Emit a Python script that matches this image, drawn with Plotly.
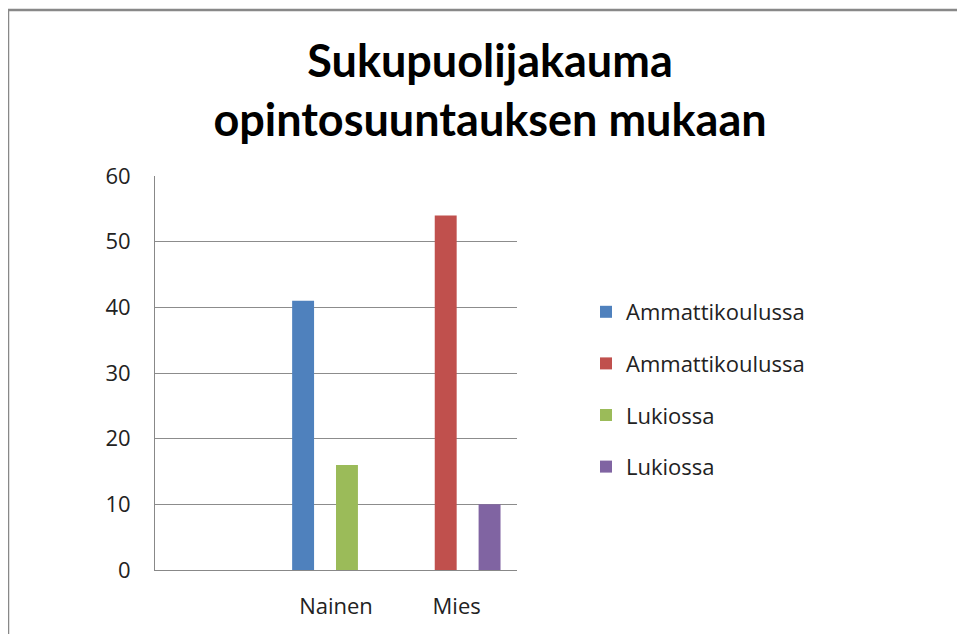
import plotly.graph_objects as go

categories = ["", "Nainen", "Mies"]
series_names = ["Ammattikoulussa", "Ammattikoulussa", "Lukiossa", "Lukiossa"]
series_colors = ["#4F81BD", "#C0504D", "#9BBB59", "#8064A2"]
blue_vals = [None, 41, None]
red_vals = [None, None, 54]
green_vals = [None, 16, None]
purple_vals = [None, None, 10]
y_ticks = [0, 10, 20, 30, 40, 50, 60]
title_text = "Sukupuolijakauma<br>opintosuuntauksen mukaan"

all_vals = [blue_vals, red_vals, green_vals, purple_vals]
xpos = list(range(len(categories)))

fig = go.Figure()
for i, (name, color, vals) in enumerate(zip(series_names, series_colors, all_vals)):
    fig.add_trace(go.Bar(
        x=xpos, y=vals, name=name, marker=dict(color=color, line=dict(width=0)),
        legendgroup=f"g{i}",
    ))

# figure is placed at (8, 8) in the page by the default body margin
W, H = 957, 626
L, T, PW, PH = 147, 168, 362, 394

FONT = "Open Sans"
fig.update_layout(
    width=W, height=H,
    margin=dict(l=L, r=W - L - PW, t=T, b=H - T - PH),
    paper_bgcolor="white", plot_bgcolor="white",
    barmode="group", bargap=0.273, bargroupgap=0,
    title=dict(text=title_text, x=(490 - 8) / W, xanchor="center", xref="container",
               y=1 - 69 / H, yanchor="middle", yref="container",
               font=dict(family="Lato", size=45, color="black", weight="bold")),
    font=dict(family=FONT, size=22, color="#222"),
    legend=dict(x=(578 - L) / PW, xanchor="left", y=(T + PH - 283) / PH, yanchor="top",
                tracegroupgap=20, font=dict(size=22, color="#222"),
                bgcolor="rgba(0,0,0,0)", itemwidth=30),
    xaxis=dict(range=[-0.5, 2.5], tickvals=xpos, ticktext=categories,
               showgrid=False, showline=True, linecolor="#888", linewidth=1,
               ticks="", ticklabelstandoff=17, zeroline=False,
               tickfont=dict(size=22, color="#222")),
    yaxis=dict(range=[0, 60], tickvals=y_ticks, showgrid=True, gridcolor="#8c8c8c",
               gridwidth=1, showline=True, linecolor="#888", linewidth=1,
               ticks="", ticklabelstandoff=19, zeroline=False,
               tickfont=dict(size=22, color="#222")),
    shapes=[dict(type="rect", xref="paper", yref="paper",
                 x0=(0 - L) / PW, x1=(W + 20 - L) / PW,
                 y0=(T + PH - (H + 20)) / PH, y1=(T + PH - 2) / PH,
                 line=dict(color="#888", width=2.5), fillcolor="rgba(0,0,0,0)",
                 layer="below")],
)

fig.write_html("out.html")
